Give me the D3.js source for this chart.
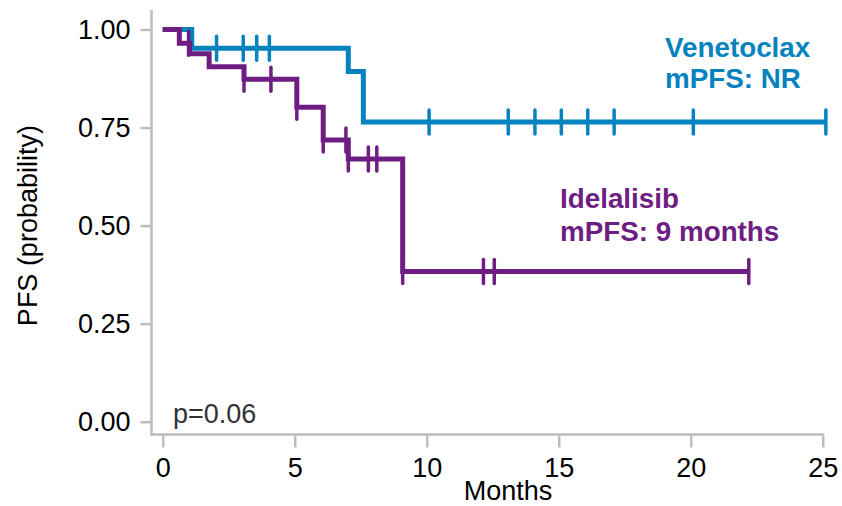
<!DOCTYPE html>
<html>
<head>
<meta charset="utf-8">
<script src="https://cdn.jsdelivr.net/npm/d3@7/dist/d3.min.js"></script>
<style>
  html, body { margin: 0; padding: 0; background: #fff; }
  svg { display: block; font-family: "Liberation Sans", Arial, sans-serif; }
</style>
</head>
<body>
<svg id="chart" width="842" height="506"></svg>
<script>
// Kaplan–Meier step data (time in months, survival probability after each step)
const venetoclaxTimes = [0, 1.1, 7.03, 7.6];
const venetoclaxSurv  = [1.0, 0.952, 0.893, 0.764];
const venetoclaxEnd   = 25.12;
const venetoclaxCensor = [2.04, 3.05, 3.56, 4.04, 10.09, 13.09, 14.1, 15.1, 16.1, 17.1, 20.1, 25.12];

const idelalisibTimes = [0, 0.63, 1.02, 1.76, 3.08, 5.08, 6.08, 7.03, 9.09];
const idelalisibSurv  = [1.0, 0.965, 0.938, 0.905, 0.873, 0.802, 0.718, 0.670, 0.383];
const idelalisibEnd   = 22.2;
const idelalisibCensor = [0.98, 3.08, 4.1, 5.08, 6.08, 6.94, 7.03, 7.79, 8.11, 9.09, 12.15, 12.56, 22.2];

const xTicks = [0, 5, 10, 15, 20, 25];
const yTicks = [0, 0.25, 0.5, 0.75, 1.0];

const blue = "#0583bf";
const purple = "#6e1e82";
const axisGrey = "#bdbdbd";

const svg = d3.select("#chart");
const x = d3.scaleLinear().domain([0, 25]).range([162.7, 822.7]);
const y = d3.scaleLinear().domain([0, 1]).range([421.7, 29.5]);

// Axis lines (left and bottom) with ggplot-style padding
const axisLeftX = 151.5, axisBottomY = 434.5;
svg.append("line").attr("x1", axisLeftX).attr("x2", axisLeftX)
  .attr("y1", y(1.05)).attr("y2", axisBottomY + 1)
  .attr("stroke", axisGrey).attr("stroke-width", 2.5);
svg.append("line").attr("x1", axisLeftX - 1).attr("x2", x(25) + 1)
  .attr("y1", axisBottomY).attr("y2", axisBottomY)
  .attr("stroke", axisGrey).attr("stroke-width", 2.5);

// Y ticks and labels
const yg = svg.append("g").attr("transform", `translate(${axisLeftX},0)`)
  .call(d3.axisLeft(y).tickValues(yTicks).tickFormat(d3.format(".2f")).tickSize(11).tickPadding(10));
yg.select(".domain").remove();
yg.selectAll(".tick line").attr("stroke", axisGrey).attr("stroke-width", 2.5);
yg.selectAll(".tick text").attr("font-size", 27).attr("fill", "#000")
  .attr("font-family", "Liberation Sans, Arial, sans-serif");

// X ticks and labels
const xg = svg.append("g").attr("transform", `translate(0,${axisBottomY})`)
  .call(d3.axisBottom(x).tickValues(xTicks).tickFormat(d3.format("d")).tickSize(13).tickPadding(10));
xg.select(".domain").remove();
xg.selectAll(".tick line").attr("stroke", axisGrey).attr("stroke-width", 2.5);
xg.selectAll(".tick text").attr("font-size", 27).attr("fill", "#000")
  .attr("font-family", "Liberation Sans, Arial, sans-serif");

// Axis titles
svg.append("text").attr("x", 508).attr("y", 500).attr("text-anchor", "middle")
  .attr("font-size", 27).attr("fill", "#000").text("Months");
svg.append("text").attr("transform", `translate(37,${y(0.5)}) rotate(-90)`)
  .attr("text-anchor", "middle").attr("font-size", 27).attr("fill", "#000")
  .text("PFS (probability)");

// Step curves
function stepPoints(times, surv, end) {
  const pts = times.map((t, i) => [t, surv[i]]);
  pts.push([end, surv[surv.length - 1]]);
  return pts;
}
function survAt(times, surv, t) {
  let s = surv[0];
  for (let i = 0; i < times.length; i++) if (times[i] <= t) s = surv[i];
  return s;
}
const line = d3.line().x(d => x(d[0])).y(d => y(d[1])).curve(d3.curveStepAfter);

function drawCurve(times, surv, end, censor, color) {
  const g = svg.append("g");
  g.append("path").datum(stepPoints(times, surv, end))
    .attr("d", line).attr("fill", "none").attr("stroke", color)
    .attr("stroke-width", 5);
  g.selectAll("line.censor").data(censor).enter().append("line")
    .attr("class", "censor")
    .attr("x1", d => x(d)).attr("x2", d => x(d))
    .attr("y1", d => y(survAt(times, surv, d)) - 12)
    .attr("y2", d => y(survAt(times, surv, d)) + 12)
    .attr("stroke", color).attr("stroke-width", 3.5).attr("stroke-linecap", "round");
}
drawCurve(venetoclaxTimes, venetoclaxSurv, venetoclaxEnd, venetoclaxCensor, blue);
drawCurve(idelalisibTimes, idelalisibSurv, idelalisibEnd, idelalisibCensor, purple);

// Annotations
const ann = svg.append("g").attr("font-weight", "bold").attr("font-size", 27.8);
ann.append("text").attr("x", 665).attr("y", 57).attr("fill", blue).text("Venetoclax");
ann.append("text").attr("x", 665).attr("y", 88).attr("fill", blue).text("mPFS: NR");
ann.append("text").attr("x", 560).attr("y", 208).attr("fill", purple).text("Idelalisib");
ann.append("text").attr("x", 560).attr("y", 241).attr("fill", purple).text("mPFS: 9 months");

svg.append("text").attr("x", 173).attr("y", 423).attr("font-size", 27)
  .attr("fill", "#333").text("p=0.06");
</script>
</body>
</html>
